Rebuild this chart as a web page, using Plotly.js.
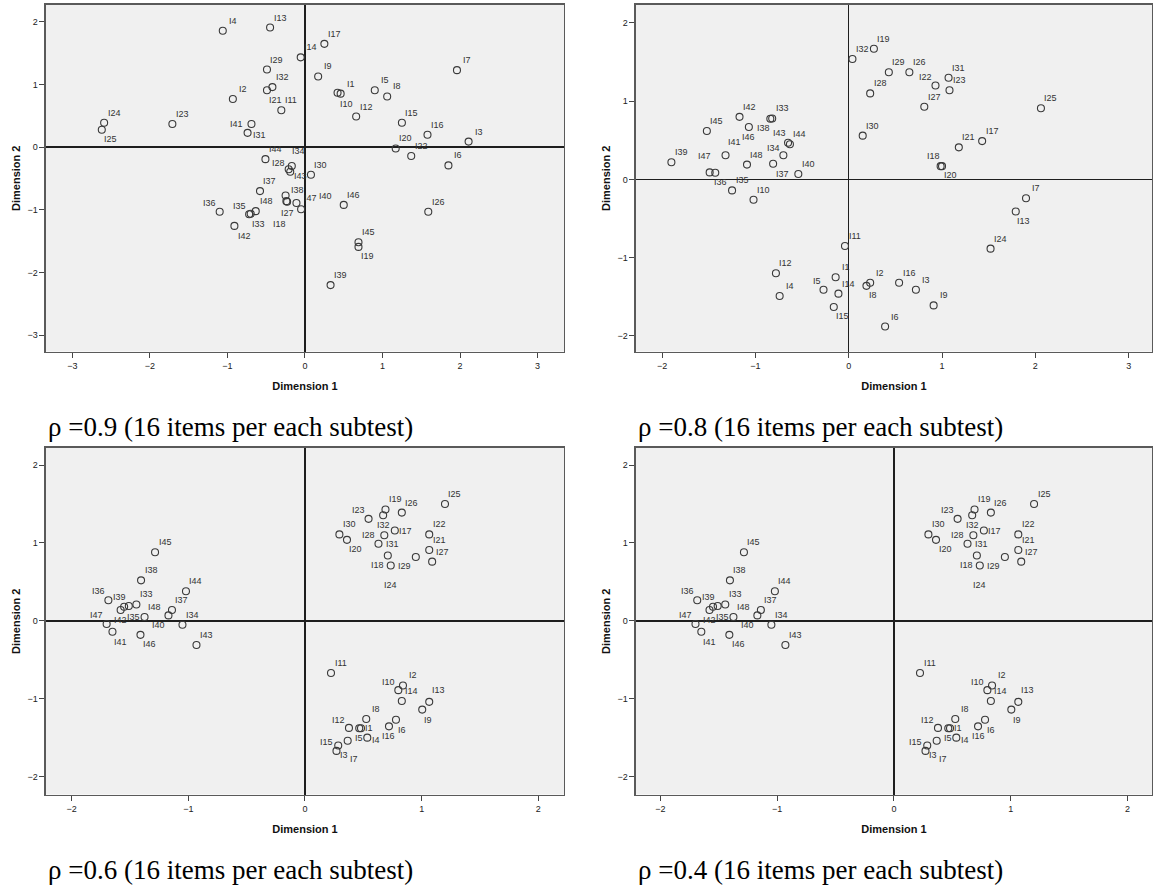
<!DOCTYPE html>
<html>
<head>
<meta charset="utf-8">
<script src="https://cdn.plot.ly/plotly-3.0.1.min.js"></script>
<style>html,body{margin:0;padding:0;background:#fff;}#chart{width:1155px;height:892px;}</style>
</head>
<body>
<div id="chart"></div>
<script>
// Item labels (same order for every panel)
const items = ['I1','I2','I3','I4','I5','I6','I7','I8','I9','I10','I11','I12','I13','I14','I15','I16',
               'I17','I18','I19','I20','I21','I22','I23','I24','I25','I26','I27','I28','I29','I30','I31','I32',
               'I33','I34','I35','I36','I37','I38','I39','I40','I41','I42','I43','I44','I45','I46','I47','I48'];

// Panel 1: rho = 0.9
const p1x = [0.46,-0.93,2.11,-1.06,0.90,1.85,1.96,1.06,0.17,0.42,-0.305,0.66,-0.45,-0.055,1.25,1.58,
             0.25,-0.635,0.69,1.17,-0.49,1.37,-1.71,-2.59,-2.62,1.59,-0.23,-0.21,-0.49,0.077,-0.74,-0.42,
             -0.70,-0.17,-0.72,-1.10,-0.58,-0.25,0.33,-0.05,-0.69,-0.91,-0.19,-0.51,0.69,0.50,-0.11,-0.24];
const p1y = [0.855,0.77,0.09,1.86,0.91,-0.29,1.23,0.81,1.13,0.87,0.59,0.49,1.91,1.435,0.39,0.20,
             1.65,-1.02,-1.59,-0.02,0.91,-0.14,0.37,0.39,0.28,-1.03,-0.87,-0.35,1.24,-0.44,0.23,0.96,
             -1.06,-0.30,-1.07,-1.03,-0.70,-0.77,-2.20,-0.99,0.37,-1.255,-0.39,-0.19,-1.515,-0.92,-0.89,-0.86];

// Panel 2: rho = 0.8
const p2x = [-0.14,0.23,0.72,-0.74,-0.27,0.39,1.90,0.19,0.91,-1.02,-0.04,-0.78,1.79,-0.11,-0.16,0.54,
             1.43,0.985,0.27,1.00,1.18,0.93,1.08,1.52,2.06,0.65,0.81,0.23,0.43,0.15,1.07,0.04,
             -0.82,-0.70,-1.25,-1.43,-0.81,-0.84,-1.90,-0.54,-1.32,-1.17,-0.65,-0.63,-1.52,-1.07,-1.49,-1.09];
const p2y = [-1.25,-1.32,-1.41,-1.49,-1.41,-1.88,-0.24,-1.36,-1.61,-0.26,-0.85,-1.20,-0.41,-1.46,-1.63,-1.32,
             0.49,0.17,1.67,0.17,0.41,1.20,1.14,-0.885,0.91,1.37,0.93,1.10,1.37,0.56,1.30,1.54,
             0.78,0.31,-0.14,0.085,0.20,0.775,0.22,0.07,0.31,0.80,0.47,0.45,0.62,0.67,0.09,0.19];

// Panels 3 and 4: rho = 0.6 and rho = 0.4 (identical configurations in the source)
const p3x = [0.48,0.84,0.27,0.534,0.465,0.78,0.366,0.525,1.005,0.80,0.223,0.377,1.065,0.83,0.285,0.72,
             0.77,0.71,0.69,0.36,1.065,1.065,0.545,0.735,1.20,0.83,1.09,0.68,0.95,0.295,0.63,0.67,
             -1.445,-1.05,-1.51,-1.685,-1.14,-1.405,-1.55,-1.17,-1.65,-1.58,-0.93,-1.02,-1.285,-1.41,-1.70,-1.375];
const p3y = [-1.38,-0.83,-1.67,-1.50,-1.38,-1.27,-1.54,-1.26,-1.14,-0.89,-0.67,-1.375,-1.04,-1.03,-1.60,-1.355,
             1.16,0.84,1.43,1.04,0.91,1.11,1.31,0.71,1.50,1.39,0.76,1.10,0.82,1.11,0.99,1.355,
             0.21,-0.05,0.19,0.265,0.14,0.52,0.18,0.07,-0.14,0.14,-0.31,0.38,0.88,-0.18,-0.04,0.05];
const p4x = p3x.slice();
const p4y = p3y.slice();

const captions = ['ρ =0.9 (16 items per each subtest)','ρ =0.8 (16 items per each subtest)',
                  'ρ =0.6 (16 items per each subtest)','ρ =0.4 (16 items per each subtest)'];

// label offsets in pixels (label centre relative to the point; default up-right) - style only
const DEF = [10, -10];
const off1 = {I21:[9,10],I25:[9,9],I41:[-15,0],I31:[12,2],I34:[7,-15],I28:[-10,-6],I43:[10,4],I38:[12,-5],
  I48:[-20,0],I27:[0,11],I47:[14,-5],I40:[24,-13],I36:[-10,-9],I35:[-10,-8],I33:[8,10],I18:[24,13],
  I42:[10,10],I10:[9,11],I19:[9,9]};
const off2 = {I38:[-7,9],I46:[0,10],I43:[-9,-10],I41:[9,-13],I34:[-10,-7],I37:[9,10],I47:[-5,-16],I36:[5,9],
  I5:[-7,-9],I15:[9,9],I8:[7,9],I13:[8,9],I18:[-7,-10],I20:[8,9],I22:[-10,-9]};
const off3 = {I36:[-10,-9],I39:[-5,-10],I47:[-10,-9],I42:[0,10],I35:[5,11],I40:[-10,10],I41:[8,10],I46:[9,9],
  I32:[0,10],I23:[-10,-9],I20:[9,9],I28:[-16,0],I17:[11,0],I31:[14,0],I18:[-10,10],I24:[0,19],I29:[-11,9],
  I10:[-10,-8],I13:[9,-12],I9:[6,10],I6:[6,10],I16:[0,10],I12:[-10,-8],I1:[8,0],I5:[0,10],I4:[9,2],
  I15:[-12,-3],I3:[8,4],I7:[6,18]};

const labFont = {family:'Arial, Liberation Sans, sans-serif', size:9, color:'#333'};
function trace(x, y, n) {
  const s = n === 1 ? '' : String(n);
  return {type:'scatter', mode:'markers', x:x, y:y, xaxis:'x'+s, yaxis:'y'+s, hoverinfo:'none', showlegend:false,
    marker:{symbol:'circle-open', size:7, color:'#3a3a3a', line:{width:1.1, color:'#3a3a3a'}}};
}
function labels(x, y, off, n) {
  const s = n === 1 ? '' : String(n);
  return items.map((t, i) => {
    const o = off[t] || DEF;
    return {xref:'x'+s, yref:'y'+s, x:x[i], y:y[i], text:t, showarrow:false, xanchor:'center', yanchor:'middle',
      xshift:o[0], yshift:-o[1], font:labFont};
  });
}
const data = [trace(p1x,p1y,1), trace(p2x,p2y,2), trace(p3x,p3y,3), trace(p4x,p4y,4)];

const base = {showgrid:false, zeroline:true, zerolinecolor:'#1e1e1e', zerolinewidth:1.5,
  showline:true, linecolor:'#5a5a5a', linewidth:1.5, mirror:true, ticks:'outside', ticklen:5,
  tickcolor:'#444', tickwidth:1, dtick:1, tick0:0, fixedrange:true,
  tickfont:{family:'Arial, Liberation Sans, sans-serif', size:9, color:'#222'}};
function xa(dom, range, anchor) {
  return Object.assign({}, base, {domain:dom, range:range, anchor:anchor,
    title:{text:'<b>Dimension 1</b>', standoff:12, font:{family:'Arial, Liberation Sans, sans-serif', size:11, color:'#111'}}});
}
function ya(dom, range, anchor) {
  return Object.assign({}, base, {domain:dom, range:range, anchor:anchor,
    title:{text:'<b>Dimension 2</b>', standoff:4, font:{family:'Arial, Liberation Sans, sans-serif', size:11, color:'#111'}}});
}
const colL = [0.0398, 0.4883], colR = [0.5506, 0.9974];
const rowT = [0.6059, 0.9944], rowB = [0.1093, 0.4978];
const capFont = {family:'Liberation Serif, Times New Roman, serif', size:27, color:'#000'};
const caps = [[0.0398, 0.5213], [0.551, 0.5213], [0.0398, 0.0247], [0.551, 0.0247]].map((p, i) => (
  {xref:'paper', yref:'paper', x:p[0], y:p[1], xanchor:'left', yanchor:'middle', showarrow:false, text:captions[i], font:capFont}));

const layout = {
  width:1155, height:892, margin:{l:0,r:0,t:0,b:0}, paper_bgcolor:'#ffffff', plot_bgcolor:'#f0f0f0',
  showlegend:false,
  xaxis: xa(colL, [-3.34, 3.34], 'y'),   yaxis: ya(rowT, [-3.26, 2.27], 'x'),
  xaxis2: xa(colR, [-2.28, 3.25], 'y2'), yaxis2: ya(rowT, [-2.20, 2.23], 'x2'),
  xaxis3: xa(colL, [-2.22, 2.22], 'y3'), yaxis3: ya(rowB, [-2.23, 2.22], 'x3'),
  xaxis4: xa(colR, [-2.21, 2.21], 'y4'), yaxis4: ya(rowB, [-2.23, 2.22], 'x4'),
  annotations: [].concat(labels(p1x,p1y,off1,1), labels(p2x,p2y,off2,2), labels(p3x,p3y,off3,3),
                         labels(p4x,p4y,off3,4), caps)
};
Plotly.newPlot('chart', data, layout, {staticPlot:true, displayModeBar:false});
</script>
</body>
</html>
